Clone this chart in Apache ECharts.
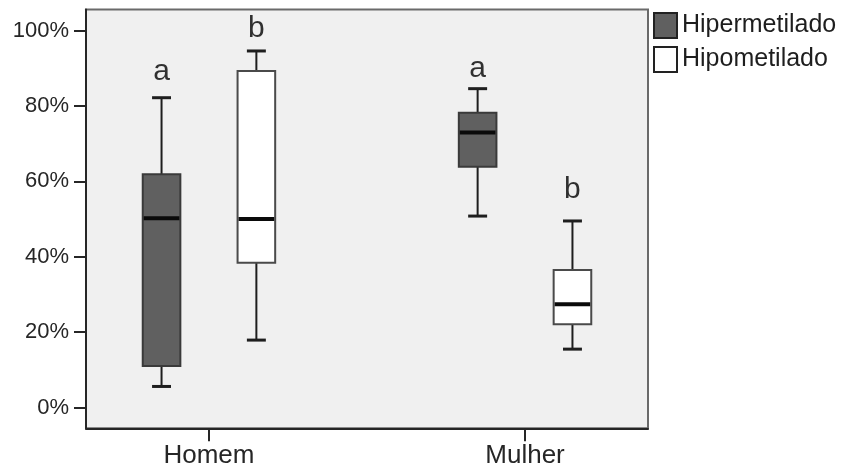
<!DOCTYPE html>
<html>
<head>
<meta charset="utf-8">
<script src="https://cdn.jsdelivr.net/npm/echarts@6/dist/echarts.min.js"></script>
<style>
  html, body { margin: 0; padding: 0; background: #ffffff; }
  #chart { width: 845px; height: 475px; }
</style>
</head>
<body>
<div id="chart"></div>
<script>
// Categories along the horizontal axis
const categories = ['Homem', 'Mulher'];
// Methylation groups (one box per group within each category)
const groupNames = ['Hipermetilado', 'Hipometilado'];
// Box statistics per category, in %: [min, Q1, median, Q3, max]
const hiperValues = [
  [5.6, 11.0, 50.2, 61.9, 82.2],
  [50.8, 63.9, 73.0, 78.2, 84.6]
];
const hipoValues = [
  [17.9, 38.4, 50.0, 89.3, 94.6],
  [15.5, 22.1, 27.4, 36.5, 49.5]
];
// Significance letters above each box, and the height (in %) they sit at
const hiperLetters = ['a', 'a'];
const hipoLetters = ['b', 'b'];
const hiperLetterY = [89.1, 90.0];
const hipoLetterY = [100.6, 57.7];
// Y tick values (%)
const yTicks = [0, 20, 40, 60, 80, 100];

const FONT = "'Liberation Sans', Arial, sans-serif";
const GROUP_OFFSET = 0.15;   // horizontal shift of each group from the category centre
const BOX_WIDTH = 0.119;
const CAP_WIDTH = 0.06;

const styles = [
  { fill: '#606060', stroke: '#3a3a3a' },
  { fill: '#ffffff', stroke: '#4a4a4a' }
];

function boxRenderer(offset, st) {
  return function (params, api) {
    const x = api.value(0) + offset;
    const pMin = api.coord([x, api.value(1)]);
    const pQ1 = api.coord([x, api.value(2)]);
    const pMed = api.coord([x, api.value(3)]);
    const pQ3 = api.coord([x, api.value(4)]);
    const pMax = api.coord([x, api.value(5)]);
    const bw = api.size([BOX_WIDTH, 0])[0];
    const cw = api.size([CAP_WIDTH, 0])[0];
    const cx = pMin[0];
    const whisker = { stroke: '#1e1e1e', lineWidth: 2 };
    const cap = { stroke: '#1e1e1e', lineWidth: 3 };
    return {
      type: 'group',
      children: [
        { type: 'line', shape: { x1: cx, y1: pQ3[1], x2: cx, y2: pMax[1] }, style: whisker },
        { type: 'line', shape: { x1: cx, y1: pQ1[1], x2: cx, y2: pMin[1] }, style: whisker },
        { type: 'line', shape: { x1: cx - cw / 2, y1: pMax[1], x2: cx + cw / 2, y2: pMax[1] }, style: cap },
        { type: 'line', shape: { x1: cx - cw / 2, y1: pMin[1], x2: cx + cw / 2, y2: pMin[1] }, style: cap },
        { type: 'rect', shape: { x: cx - bw / 2, y: pQ3[1], width: bw, height: pQ1[1] - pQ3[1] },
          style: { fill: st.fill, stroke: st.stroke, lineWidth: 2 } },
        { type: 'line', shape: { x1: cx - bw / 2 + 1, y1: pMed[1], x2: cx + bw / 2 - 1, y2: pMed[1] },
          style: { stroke: '#0a0a0a', lineWidth: 4 } }
      ]
    };
  };
}

function boxData(values) {
  return values.map((v, i) => [i].concat(v));
}

function letterData(letters, heights, offset) {
  return letters.map((t, i) => [i + offset, heights[i], t]);
}

const chart = echarts.init(document.getElementById('chart'), null, { renderer: 'canvas' });

chart.setOption({
  animation: false,
  backgroundColor: '#ffffff',
  grid: {
    left: 86, top: 9.5, right: 197, bottom: 46.7,
    show: true, backgroundColor: '#f0f0f0',
    borderColor: '#6a6a6a', borderWidth: 2
  },
  legend: {
    orient: 'vertical',
    left: 653, top: 12,
    padding: 0,
    itemWidth: 23, itemHeight: 25, itemGap: 7,
    icon: 'rect',
    textStyle: { fontFamily: FONT, fontSize: 25, color: '#1e1e1e' },
    data: [
      { name: groupNames[0], itemStyle: { color: styles[0].fill, borderColor: '#222', borderWidth: 2 } },
      { name: groupNames[1], itemStyle: { color: styles[1].fill, borderColor: '#222', borderWidth: 2 } }
    ]
  },
  xAxis: {
    type: 'value',
    min: -0.389, max: 1.389,
    splitLine: { show: false },
    axisLine: { show: true, onZero: false, lineStyle: { color: '#262626', width: 2 } },
    axisTick: { show: true, customValues: [0, 1], length: 13, inside: false,
      lineStyle: { color: '#262626', width: 2 } },
    axisLabel: {
      customValues: [0, 1],
      formatter: v => categories[Math.round(v)],
      margin: 15,
      fontFamily: FONT, fontSize: 26, color: '#262626'
    }
  },
  yAxis: {
    type: 'value',
    min: -5.5, max: 105.6,
    splitLine: { show: false },
    axisLine: { show: true, onZero: false, lineStyle: { color: '#262626', width: 2 } },
    axisTick: { show: true, customValues: yTicks, length: 12,
      lineStyle: { color: '#262626', width: 2 } },
    axisLabel: {
      customValues: yTicks,
      formatter: '{value}%',
      margin: 17,
      fontFamily: FONT, fontSize: 22, color: '#262626'
    }
  },
  series: [
    {
      name: groupNames[0], type: 'custom',
      renderItem: boxRenderer(-GROUP_OFFSET, styles[0]),
      itemStyle: { color: styles[0].fill },
      encode: { x: 0, y: [1, 2, 3, 4, 5] },
      data: boxData(hiperValues), z: 3
    },
    {
      name: groupNames[1], type: 'custom',
      renderItem: boxRenderer(GROUP_OFFSET, styles[1]),
      itemStyle: { color: styles[1].fill },
      encode: { x: 0, y: [1, 2, 3, 4, 5] },
      data: boxData(hipoValues), z: 3
    },
    {
      name: 'letras', type: 'scatter', silent: true,
      symbolSize: 1, itemStyle: { color: 'rgba(0,0,0,0)' },
      label: {
        show: true, position: 'inside',
        formatter: p => p.value[2],
        fontFamily: FONT, fontSize: 30, color: '#000000'
      },
      data: letterData(hiperLetters, hiperLetterY, -GROUP_OFFSET)
        .concat(letterData(hipoLetters, hipoLetterY, GROUP_OFFSET)),
      z: 4
    }
  ]
});
</script>
</body>
</html>
